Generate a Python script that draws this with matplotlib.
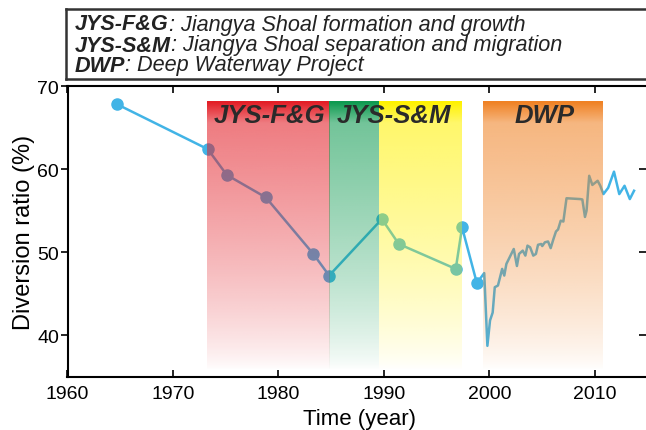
import numpy as np
import matplotlib
matplotlib.use('Agg')
import matplotlib.pyplot as plt
from matplotlib.lines import Line2D
from matplotlib.colors import to_rgb

plt.rcParams['font.family'] = ['Liberation Sans', 'DejaVu Sans']
plt.rcParams['savefig.bbox'] = 'standard'

# survey points (with markers)
survey_year = [1964.7, 1973.3, 1975.1, 1978.8, 1983.3, 1984.8, 1989.8, 1991.4, 1996.8, 1997.4, 1998.8]
survey_ratio = [67.8, 62.4, 59.3, 56.6, 49.8, 47.2, 54.0, 51.0, 48.0, 53.0, 46.3]

# monitoring series after 1998
dwp_year = [1998.8, 1999.5, 1999.8, 2000.05, 2000.3, 2000.5, 2000.8, 2001.2, 2001.4, 2001.6,
            2002.3, 2002.6, 2002.8, 2003.15, 2003.4, 2003.6, 2003.85, 2004.15, 2004.4, 2004.6,
            2004.9, 2005.0, 2005.25, 2005.55, 2005.8, 2006.05, 2006.3, 2006.5, 2006.75, 2007.0,
            2007.3, 2008.6, 2008.8, 2009.05, 2009.2, 2009.45, 2009.75, 2010.0, 2010.25, 2010.5,
            2010.8, 2011.25, 2011.8, 2012.3, 2012.8, 2013.3, 2013.7]
dwp_ratio = [46.3, 47.5, 38.75, 41.8, 42.75, 45.8, 46.0, 48.0, 47.2, 48.6,
             50.4, 48.35, 49.8, 50.2, 49.6, 50.8, 50.6, 49.6, 49.8, 50.9,
             51.0, 50.75, 51.2, 51.3, 50.5, 51.55, 52.5, 52.75, 53.8, 53.7,
             56.5, 56.4, 56.35, 54.25, 55.0, 59.2, 58.1, 58.35, 58.6, 58.0,
             57.0, 57.75, 59.7, 57.0, 58.0, 56.4, 57.4]

# shaded periods
period_start = [1973.2, 1984.8, 1989.5, 1999.4]
period_end = [1984.8, 1989.5, 1997.3, 2010.7]
period_color = ['#e31e26', '#0e9a50', '#fff200', '#f08224']

period_label = ['JYS-F&G', 'JYS-S&M', 'DWP']
label_x = [1979.1, 1990.9, 2005.25]

legend_key = ['JYS-F&G', 'JYS-S&M', 'DWP']
legend_text = [': Jiangya Shoal formation and growth',
               ': Jiangya Shoal separation and migration',
               ': Deep Waterway Project']

fig = plt.figure(figsize=(6.46, 4.31), dpi=100)
ax = fig.add_axes([67.5/646, 1-378/431, 584/646, 291/431])

line_c = '#42b4e6'
ax.plot(survey_year, survey_ratio, '-o', color=line_c, lw=1.8, ms=8, zorder=2)
ax.plot(dwp_year, dwp_ratio, '-', color=line_c, lw=1.8, zorder=2)

band_top = 68.24
band_bot = 35.9
n = 300
t = np.linspace(0, 1, n)
alpha = 0.62*(1-t)**0.75 + 0.4*np.clip(1 - t/0.08, 0, 1)
alpha = np.clip(alpha, 0, 1)
for x0, x1, c in zip(period_start, period_end, period_color):
    rgba = np.zeros((n, 1, 4))
    rgba[:, 0, :3] = to_rgb(c)
    rgba[:, 0, 3] = alpha
    ax.imshow(rgba, extent=[x0, x1, band_bot, band_top], aspect='auto',
              interpolation='bilinear', zorder=3, origin='upper')

for lab, lx in zip(period_label, label_x):
    ax.text(lx, 66.5, lab, fontsize=18.5, weight='bold', style='italic',
            color='#2a2a2a', ha='center', va='center', zorder=4)

ax.set_xlim(1960, 1960 + 584/10.55)
ax.set_ylim(35, 70)
ax.set_xticks([1960, 1970, 1980, 1990, 2000, 2010])
ax.set_yticks([40, 50, 60, 70])
ax.tick_params(axis='x', direction='in', top=True, length=5, width=1.2, labelsize=14, pad=6)
ax.tick_params(axis='y', direction='out', length=5, width=1.2, labelsize=14, pad=1)
ax.spines['right'].set_visible(False)
sec = ax.secondary_yaxis(1.0 - 6/584)
sec.set_yticks([40, 50, 60, 70])
sec.tick_params(direction='in', length=5, width=1.2, labelright=False)
sec.spines['right'].set_visible(False)
for s in ax.spines.values():
    s.set_linewidth(1.5)
ax.set_xlabel('Time (year)', fontsize=16, labelpad=4)
ax.set_ylabel('Diversion ratio (%)', fontsize=17, labelpad=2)

# key box above the axes (open on the right, as in the cropped original)
bx0, bx1 = 66/646, 1.0
by0, by1 = 1-80/431, 1-9.5/431
for xs, ys in [([bx0, bx1], [by1, by1]), ([bx0, bx1], [by0, by0]), ([bx0, bx0], [by0, by1])]:
    fig.add_artist(Line2D(xs, ys, transform=fig.transFigure, color='#333333', lw=1.8))
line_y = [25, 46, 66]
for key, txt, ly in zip(legend_key, legend_text, line_y):
    k = fig.text(75/646, 1-ly/431, key, fontsize=15.6, weight='bold', style='italic',
                 color='#222222', va='center')
    ax.annotate(txt, xy=(1, 0), xycoords=k, fontsize=15.6, style='italic',
                color='#222222', va='bottom', ha='left', annotation_clip=False)

fig.savefig('out.png', dpi=100, bbox_inches=None)
